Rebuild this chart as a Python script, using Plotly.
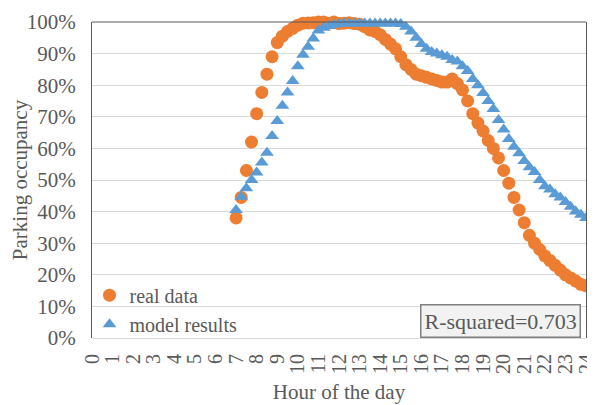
import plotly.graph_objects as go

hours = [7.0, 7.25, 7.5, 7.75, 8.0, 8.25, 8.5, 8.75, 9.0, 9.25, 9.5, 9.75,
         10.0, 10.25, 10.5, 10.75, 11.0, 11.25, 11.5, 11.75, 12.0, 12.25, 12.5, 12.75,
         13.0, 13.25, 13.5, 13.75, 14.0, 14.25, 14.5, 14.75, 15.0, 15.25, 15.5, 15.75,
         16.0, 16.25, 16.5, 16.75, 17.0, 17.25, 17.5, 17.75, 18.0, 18.25, 18.5, 18.75,
         19.0, 19.25, 19.5, 19.75, 20.0, 20.25, 20.5, 20.75, 21.0, 21.25, 21.5, 21.75,
         22.0, 22.25, 22.5, 22.75, 23.0, 23.25, 23.5, 23.75, 24.0]

real_data = [38, 44.5, 53, 62, 71, 77.7, 83.5, 89, 93.5, 95.5, 97, 98,
             99, 99.6, 99.7, 99.8, 100, 100, 99.6, 100, 99.5, 99.6, 99.8, 99.5,
             99.3, 98.5, 97.5, 97, 96, 94.5, 93, 91.5, 89, 86.5, 85, 83.5,
             83, 82.5, 82, 81.5, 81, 81, 82, 80.5, 78.5, 75, 71, 68,
             65.5, 62.5, 60, 57, 53, 49, 44.5, 40.5, 36.5, 32.5, 30, 28,
             26, 24.5, 23, 21.5, 20, 19, 18, 17, 16.5]

model_results = [40.5, 44.7, 47.4, 50, 52.4, 55.5, 58.6, 63.9, 68.7, 73.5, 77.7, 81.3,
                 86, 89.6, 92.2, 94.8, 97.3, 98.2, 98.7, 99.1, 99.4, 99.5, 99.5, 99.5,
                 99.5, 99.5, 99.5, 99.5, 99.5, 99.5, 99.5, 99.5, 99.4, 98.5, 97, 95,
                 93, 91.5, 90.5, 90, 89.5, 89, 88, 87.5, 86, 84.5, 82, 80,
                 77.5, 75, 72.5, 69, 66, 63, 60.5, 58.5, 56, 54, 52.5, 50,
                 48, 47, 45.5, 44.5, 43, 41.5, 40, 39, 38]

x_ticks = list(range(0, 25))
y_ticks = [0, 0.1, 0.2, 0.3, 0.4, 0.5, 0.6, 0.7, 0.8, 0.9, 1.0]
r_squared_label = "R-squared=0.703"

FONT = "Liberation Serif"
GREY = "#595959"

fig = go.Figure()
fig.add_trace(go.Scatter(
    x=hours, y=[v / 100 for v in real_data], mode="markers", name="real data",
    marker=dict(symbol="circle", size=13, color="#ED7D31", line=dict(width=0)),
    cliponaxis=False,
))
fig.add_trace(go.Scatter(
    x=hours, y=[v / 100 for v in model_results], mode="markers", name="model results",
    marker=dict(symbol="triangle-up", size=12, color="#5B9BD5", line=dict(width=0)),
    cliponaxis=False,
))

# the page body adds an 8px offset; the figure is sized to fit the window and the
# margins place the plot area at x 92..586, y 22..338 in the window
fig.update_layout(
    width=587, height=397,
    margin=dict(l=84, r=9, t=14, b=67),
    paper_bgcolor="white", plot_bgcolor="white",
    font=dict(family=FONT, size=21, color=GREY),
    showlegend=True,
    legend=dict(x=-0.005, y=-0.018, xanchor="left", yanchor="bottom",
                bgcolor="rgba(0,0,0,0)", font=dict(family=FONT, size=20, color=GREY),
                tracegroupgap=0),
    xaxis=dict(range=[0, 24], tickmode="array", tickvals=x_ticks,
               ticktext=[str(t) for t in x_ticks], tickangle=-90,
               showgrid=False, zeroline=False, showline=False, ticks="",
               automargin=False, ticklabeloverflow="allow", ticklabelstandoff=11,
               tickfont=dict(family=FONT, size=20, color=GREY),
               title=dict(text="Hour of the day", font=dict(family=FONT, size=21, color=GREY),
                          standoff=11)),
    yaxis=dict(range=[0, 1], tickmode="array", tickvals=y_ticks, tickformat=".0%",
               showgrid=True, gridcolor="#d9d9d9", gridwidth=1,
               zeroline=True, zerolinecolor="#d9d9d9", zerolinewidth=1,
               showline=True, linecolor=GREY, linewidth=1, mirror=True, ticks="",
               automargin=False, ticklabelstandoff=11,
               tickfont=dict(family=FONT, size=21, color=GREY),
               title=dict(text="Parking occupancy", font=dict(family=FONT, size=21, color=GREY),
                          standoff=10)),
    shapes=[dict(type="line", xref="paper", yref="paper", x0=0, x1=1, y0=1, y1=1,
                 line=dict(color=GREY, width=1))],
    annotations=[dict(text=r_squared_label, xref="paper", yref="paper",
                      x=0.99, y=0.0, xanchor="right", yanchor="bottom", showarrow=False,
                      font=dict(family=FONT, size=22, color=GREY),
                      bgcolor="#f2f2f2", bordercolor="#7f7f7f", borderwidth=1.5,
                      borderpad=3)],
)

fig.write_html("out.html")
